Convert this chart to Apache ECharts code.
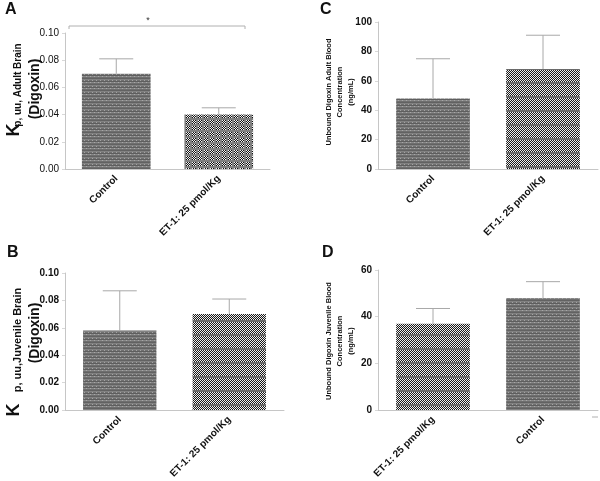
<!DOCTYPE html>
<html>
<head>
<meta charset="utf-8">
<script src="https://cdn.jsdelivr.net/npm/echarts@6/dist/echarts.min.js"></script>
<style>html,body{margin:0;padding:0;background:#fff}#c{width:600px;height:481px}</style>
</head>
<body>
<div id="c"></div>
<script>
// ---- data ----
const catsA = ['Control', 'ET-1: 25 pmol/Kg'];
const valsA = [0.070, 0.040];
const errA  = [0.011, 0.005];

const catsB = ['Control', 'ET-1: 25 pmol/Kg'];
const valsB = [0.058, 0.070];
const errB  = [0.029, 0.011];

const catsC = ['Control', 'ET-1: 25 pmol/Kg'];
const valsC = [48, 68];
const errC  = [27, 23];

const catsD = ['ET-1: 25 pmol/Kg', 'Control'];
const valsD = [37, 48];
const errD  = [6.5, 7];

// ---- patterns ----
function tile(w, h, fn) {
  const c = document.createElement('canvas'); c.width = w; c.height = h;
  const g = c.getContext('2d');
  for (let y = 0; y < h; y++) for (let x = 0; x < w; x++) { g.fillStyle = fn(x, y); g.fillRect(x, y, 1, 1); }
  return c;
}
const ctrlTile = tile(8, 6, (x, y) => {
  const rows = ['#626262', '#828282', '#707070', '#5e5e5e', '#888888', '#6e6e6e'];
  if (y === 2 && x % 4 === 0) return '#a4a4a4';
  if (y === 4 && x % 4 === 2) return '#a8a8a8';
  return rows[y];
});
const etTileA = tile(6, 6, (x, y) => {
  if (x < 4 && y < 4) return ((x + y) % 2) ? '#111' : '#f2f2f2';
  return '#808080';
});
const etTile = tile(4, 14, (x, y) => {
  if (y >= 12) return '#6a6a6a';
  return ((x + y) % 2) ? '#1a1a1a' : '#eeeeee';
});
const pat = c => ({ image: c, repeat: 'repeat' });

const font = 'Liberation Sans';
const axisGray = '#c6c6c6';
const errColor = '#a8a8a8';

function barData(cats, vals, etT) {
  return vals.map((v, i) => ({ value: v, itemStyle: { color: pat(cats[i] === 'Control' ? ctrlTile : etT) } }));
}
function errData(vals, errs) { return vals.map((v, i) => [i, v, v + errs[i]]); }
function errRender(params, api) {
  const p0 = api.coord([api.value(0), api.value(1)]);
  const p1 = api.coord([api.value(0), api.value(2)]);
  const hw = 17;
  return {
    type: 'group', children: [
      { type: 'line', shape: { x1: p0[0], y1: p0[1], x2: p1[0], y2: p1[1] }, style: { stroke: errColor, lineWidth: 1 } },
      { type: 'line', shape: { x1: p1[0] - hw, y1: p1[1], x2: p1[0] + hw, y2: p1[1] }, style: { stroke: errColor, lineWidth: 1 } }
    ]
  };
}

const grids = [
  { left: 65, right: 330, top: 33, bottom: 312 },   // A
  { left: 65, right: 316, top: 273, bottom: 63 },   // B
  { left: 378, right: 2, top: 22, bottom: 312 },    // C
  { left: 378, right: 2, top: 270, bottom: 64 }     // D
];
const cats = [catsA, catsB, catsC, catsD];
const yCfg = [
  { max: 0.1, interval: 0.02, dec: 2, bold: 'normal' },
  { max: 0.1, interval: 0.02, dec: 2, bold: 'bold' },
  { max: 100, interval: 20, dec: 0, bold: 'bold' },
  { max: 60, interval: 20, dec: 0, bold: 'bold' }
];

const xAxis = cats.map((c, i) => ({
  type: 'category', gridIndex: i, data: c,
  axisLine: { lineStyle: { color: axisGray } },
  axisTick: { show: false },
  axisLabel: { rotate: 45, margin: 8, fontFamily: font, fontWeight: 'bold', fontSize: 10, color: '#111' }
}));
const yAxis = yCfg.map((y, i) => ({
  type: 'value', gridIndex: i, min: 0, max: y.max, interval: y.interval,
  splitLine: { show: false },
  axisLine: { show: true, lineStyle: { color: axisGray } },
  axisTick: { show: true, length: 3, lineStyle: { color: '#d8d8d8' } },
  axisLabel: { fontFamily: font, fontSize: 10, fontWeight: y.bold, color: '#111', margin: 6,
               formatter: v => v.toFixed(y.dec) }
}));

const allVals = [[valsA, errA, etTileA], [valsB, errB, etTile], [valsC, errC, etTile], [valsD, errD, etTile]];
const series = [];
allVals.forEach((a, i) => {
  series.push({ type: 'bar', xAxisIndex: i, yAxisIndex: i, barWidth: '67%', data: barData(cats[i], a[0], a[2]), z: 2 });
  series.push({ type: 'custom', xAxisIndex: i, yAxisIndex: i, data: errData(a[0], a[1]), renderItem: errRender, z: 3 });
});

function rotText(x, y, text, size, weight) {
  return { type: 'text', x: x, y: y, rotation: Math.PI / 2,
    style: { text: text, fontFamily: font, fontSize: size, fontWeight: weight || 'bold', fill: '#111', align: 'center', verticalAlign: 'middle' } };
}
function letter(x, y, t) {
  return { type: 'text', x: x, y: y, style: { text: t, fontFamily: font, fontSize: 16, fontWeight: 'bold', fill: '#111' } };
}

const graphic = [
  letter(5, 2, 'A'), letter(320, 2, 'C'), letter(7, 245, 'B'), letter(322, 245, 'D'),
  // A y title
  rotText(14, 130, 'K', 18), rotText(18, 85, 'p, uu, Adult Brain', 10), rotText(35, 89, '(Digoxin)', 14),
  // B y title
  rotText(14, 410, 'K', 18), rotText(18, 340, 'p, uu,Juvenile Brain', 11), rotText(35, 333, '(Digoxin)', 14),
  // C y title
  { type: 'text', x: 340, y: 92, rotation: Math.PI / 2,
    style: { text: 'Unbound Digoxin Adult Blood\nConcentration\n(ng/mL)', fontFamily: font, fontSize: 7.5, fontWeight: 'bold', lineHeight: 11, fill: '#111', align: 'center', verticalAlign: 'middle' } },
  // D y title
  { type: 'text', x: 340, y: 341, rotation: Math.PI / 2,
    style: { text: 'Unbound Digoxin Juvenile Blood\nConcentration\n(ng/mL)', fontFamily: font, fontSize: 7.5, fontWeight: 'bold', lineHeight: 11, fill: '#111', align: 'center', verticalAlign: 'middle' } },
  // significance bracket A
  { type: 'polyline', shape: { points: [[69, 29], [69, 26], [245, 26], [245, 29]] }, style: { stroke: '#b0b0b0', lineWidth: 1, fill: null } },
  { type: 'text', x: 148, y: 21, style: { text: '*', fontFamily: font, fontSize: 9, fill: '#333', align: 'center', verticalAlign: 'middle' } },
  // stray dash in D
  { type: 'line', shape: { x1: 592, y1: 417, x2: 598, y2: 417 }, style: { stroke: '#b0b0b0', lineWidth: 1 } }
];

const chart = echarts.init(document.getElementById('c'), null, { renderer: 'canvas' });
chart.setOption({
  animation: false,
  backgroundColor: '#fff',
  grid: grids,
  xAxis: xAxis,
  yAxis: yAxis,
  series: series,
  graphic: graphic
});
</script>
</body>
</html>
